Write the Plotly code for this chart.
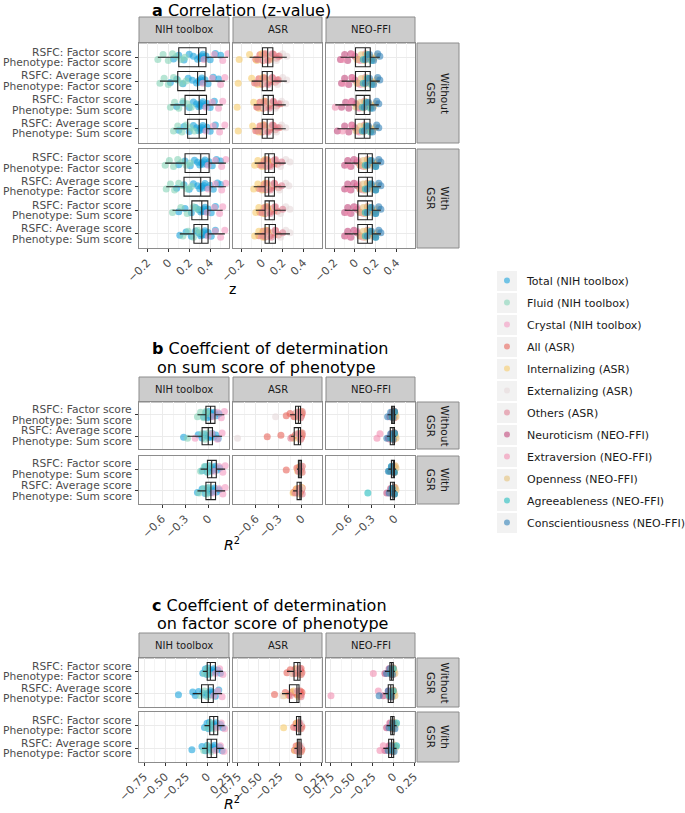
import plotly.graph_objects as go

W, H = 685, 813

# ---------------- categories / labels ----------------
INSTRUMENTS = ["NIH toolbox", "ASR", "NEO-FFI"]
GSR_LABELS = ["Without<br>GSR", "With<br>GSR"]
NIH_MEASURES = ["Total (NIH toolbox)", "Fluid (NIH toolbox)", "Crystal (NIH toolbox)"]
ASR_MEASURES = ["All (ASR)", "Internalizing (ASR)", "Externalizing (ASR)", "Others (ASR)"]
NEO_MEASURES = ["Neuroticism (NEO-FFI)", "Extraversion (NEO-FFI)", "Openness (NEO-FFI)",
                "Agreeableness (NEO-FFI)", "Conscientiousness (NEO-FFI)"]
ALL_MEASURES = NIH_MEASURES + ASR_MEASURES + NEO_MEASURES
MEASURE_COLORS = ["#1AA3DC", "#86D4B8", "#F49AC1", "#E8645A", "#F6CB6A", "#E6D9DA",
                  "#DF8195", "#C2477C", "#F28DB0", "#E4C27A", "#22BDBE", "#3180B8"]

ROWS_A = [("RSFC: Factor score", "Phenotype: Factor score"),
          ("RSFC: Average score", "Phenotype: Factor score"),
          ("RSFC: Factor score", "Phenotype: Sum score"),
          ("RSFC: Average score", "Phenotype: Sum score")]
ROWS_B = [("RSFC: Factor score", "Phenotype: Sum score"),
          ("RSFC: Average score", "Phenotype: Sum score")]
ROWS_C = [("RSFC: Factor score", "Phenotype: Factor score"),
          ("RSFC: Average score", "Phenotype: Factor score")]

TICKS_A = [-0.2, 0, 0.2, 0.4]
TICKS_B = [-0.6, -0.3, 0]
TICKS_C = [-0.75, -0.5, -0.25, 0, 0.25]
TICKTEXT_A = ["\u22120.2", "0", "0.2", "0.4"]
TICKTEXT_B = ["\u22120.6", "\u22120.3", "0"]
TICKTEXT_C = ["\u22120.75", "\u22120.50", "\u22120.25", "0", "0.25"]

# ---------------- panel a: z values ----------------
# each list: rows (Without GSR rows 1-4, With GSR rows 1-4)
A_TOTAL = [
    [0.05, 0.10, 0.15, 0.20, 0.24, 0.28, 0.30, 0.31, 0.32, 0.33, 0.34, 0.36, 0.40, 0.45, 0.50],
    [0.02, 0.08, 0.14, 0.19, 0.23, 0.27, 0.29, 0.30, 0.31, 0.32, 0.33, 0.35, 0.38, 0.43, 0.48],
    [0.08, 0.14, 0.20, 0.24, 0.27, 0.29, 0.30, 0.31, 0.32, 0.33, 0.35, 0.37, 0.40, 0.44],
    [0.10, 0.15, 0.20, 0.24, 0.27, 0.29, 0.30, 0.31, 0.32, 0.33, 0.35, 0.37, 0.40, 0.45],
    [0.10, 0.16, 0.21, 0.25, 0.28, 0.30, 0.32, 0.33, 0.34, 0.35, 0.37, 0.39, 0.42, 0.46, 0.50],
    [0.08, 0.15, 0.20, 0.24, 0.28, 0.30, 0.32, 0.33, 0.34, 0.35, 0.37, 0.40, 0.43, 0.47, 0.50],
    [0.10, 0.16, 0.22, 0.26, 0.29, 0.31, 0.32, 0.33, 0.34, 0.35, 0.36, 0.38, 0.41, 0.45],
    [0.11, 0.17, 0.22, 0.26, 0.29, 0.31, 0.32, 0.33, 0.34, 0.35, 0.36, 0.38, 0.41, 0.45],
]
A_FLUID = [
    [-0.10, -0.05, 0.00, 0.04, 0.08, 0.12, 0.16],
    [-0.08, -0.04, 0.00, 0.05, 0.09, 0.13, 0.17],
    [0.02, 0.06, 0.10, 0.14, 0.18, 0.22],
    [0.05, 0.09, 0.13, 0.17, 0.21, 0.25],
    [-0.03, 0.01, 0.05, 0.09, 0.13, 0.17, 0.21],
    [-0.02, 0.02, 0.06, 0.10, 0.14, 0.18, 0.22],
    [0.04, 0.12, 0.18, 0.24, 0.28],
    [0.14, 0.19, 0.24, 0.28, 0.30],
]
A_CRYSTAL = [
    [0.34, 0.44, 0.52, 0.57], [0.33, 0.42, 0.50, 0.54], [0.36, 0.42, 0.48, 0.52], [0.36, 0.43, 0.49, 0.54],
    [0.38, 0.45, 0.51, 0.55], [0.38, 0.45, 0.51, 0.55], [0.37, 0.44, 0.49, 0.52], [0.38, 0.45, 0.50, 0.54],
]
A_ALL = [
    [-0.06, -0.02, 0.01, 0.03, 0.04, 0.05, 0.06, 0.07, 0.09, 0.11, 0.14, 0.17],
    [-0.07, -0.03, 0.00, 0.02, 0.04, 0.05, 0.06, 0.07, 0.08, 0.10, 0.13, 0.16],
    [-0.05, -0.02, 0.01, 0.03, 0.04, 0.05, 0.06, 0.08, 0.09, 0.11, 0.14, 0.18],
    [-0.06, -0.02, 0.00, 0.02, 0.04, 0.05, 0.06, 0.07, 0.09, 0.11, 0.13, 0.17],
    [-0.02, 0.02, 0.04, 0.05, 0.06, 0.07, 0.08, 0.09, 0.10, 0.12, 0.15],
    [-0.03, 0.02, 0.04, 0.05, 0.06, 0.07, 0.08, 0.09, 0.10, 0.12, 0.16],
    [-0.02, 0.02, 0.03, 0.05, 0.06, 0.07, 0.08, 0.09, 0.10, 0.12, 0.15],
    [-0.03, 0.01, 0.03, 0.05, 0.06, 0.07, 0.08, 0.09, 0.11, 0.13, 0.16],
]
A_INTERN = [
    [-0.22, -0.12, -0.05, 0.00, 0.04, 0.08], [-0.23, -0.10, -0.04, 0.01, 0.05],
    [-0.24, -0.08, -0.03, 0.02, 0.06], [-0.23, -0.09, -0.03, 0.01, 0.05],
    [-0.07, -0.04, 0.00, 0.03, 0.06], [-0.08, -0.04, 0.00, 0.03, 0.06],
    [-0.06, -0.03, 0.01, 0.04, 0.07], [-0.07, -0.03, 0.01, 0.04, 0.07],
]
A_EXTERN = [
    [0.02, 0.08, 0.14, 0.20, 0.24], [0.03, 0.09, 0.15, 0.20, 0.24],
    [0.02, 0.08, 0.13, 0.19, 0.23], [0.03, 0.08, 0.14, 0.19, 0.23],
    [0.05, 0.12, 0.18, 0.23, 0.27], [0.05, 0.11, 0.17, 0.23, 0.26],
    [0.05, 0.12, 0.18, 0.23, 0.27], [0.06, 0.12, 0.18, 0.23, 0.27],
]
A_OTHERS = [
    [-0.04, 0.02, 0.06, 0.10, 0.16], [-0.05, 0.02, 0.06, 0.10, 0.15],
    [-0.04, 0.02, 0.07, 0.11, 0.16], [-0.04, 0.01, 0.06, 0.10, 0.15],
    [0.00, 0.04, 0.08, 0.13, 0.19], [0.00, 0.04, 0.08, 0.12, 0.19],
    [0.00, 0.04, 0.08, 0.13, 0.20], [0.01, 0.05, 0.09, 0.13, 0.20],
]
A_NEUR = [
    [-0.14, -0.10, -0.07, -0.04, 0.00, 0.03], [-0.13, -0.10, -0.06, -0.03, 0.00, 0.03],
    [-0.13, -0.09, -0.06, -0.03, 0.01, 0.04], [-0.17, -0.10, -0.06, -0.03, 0.00, 0.03],
    [-0.10, -0.07, -0.04, -0.01, 0.02, 0.05], [-0.10, -0.07, -0.04, -0.01, 0.02, 0.05],
    [-0.10, -0.07, -0.04, -0.01, 0.02, 0.05], [-0.10, -0.07, -0.04, -0.01, 0.02, 0.05],
]
A_EXTRA = [
    [-0.12, -0.02, 0.05, 0.10], [-0.11, -0.02, 0.05, 0.10], [-0.19, -0.04, 0.04, 0.09], [-0.12, -0.03, 0.04, 0.09],
    [-0.06, 0.03, 0.08, 0.12], [-0.06, 0.03, 0.08, 0.12], [-0.07, 0.02, 0.08, 0.12], [-0.07, 0.02, 0.08, 0.12],
]
A_OPEN = [
    [0.02, 0.06, 0.09, 0.11, 0.12, 0.13, 0.15, 0.18, 0.21],
    [0.02, 0.06, 0.09, 0.11, 0.12, 0.13, 0.15, 0.18, 0.21],
    [0.01, 0.05, 0.08, 0.10, 0.12, 0.13, 0.15, 0.18, 0.20],
    [0.01, 0.05, 0.08, 0.10, 0.12, 0.13, 0.15, 0.17, 0.20],
    [0.05, 0.08, 0.10, 0.12, 0.13, 0.15, 0.17, 0.19, 0.22],
    [0.05, 0.08, 0.10, 0.12, 0.13, 0.15, 0.17, 0.19, 0.22],
    [0.05, 0.08, 0.10, 0.12, 0.13, 0.15, 0.17, 0.19, 0.22],
    [0.05, 0.08, 0.10, 0.12, 0.13, 0.15, 0.17, 0.19, 0.22],
]
A_AGREE = [
    [0.08, 0.12, 0.16], [0.08, 0.12, 0.16], [0.07, 0.11, 0.15], [0.07, 0.11, 0.15],
    [0.10, 0.15, 0.20], [0.10, 0.15, 0.20], [0.10, 0.15, 0.20], [0.10, 0.15, 0.20],
]
A_CONSC = [
    [0.10, 0.14, 0.18, 0.22, 0.24], [0.10, 0.14, 0.18, 0.22, 0.24],
    [0.09, 0.13, 0.17, 0.21, 0.23], [0.09, 0.13, 0.17, 0.21, 0.23],
    [0.12, 0.16, 0.20, 0.23, 0.25], [0.12, 0.16, 0.20, 0.23, 0.25],
    [0.12, 0.16, 0.20, 0.23, 0.25], [0.12, 0.16, 0.20, 0.23, 0.25],
]

# ---------------- panel b: R^2 on sum score ----------------
# rows: Without GSR rows 1-2, With GSR rows 1-2
B_TOTAL = [
    [-0.06, -0.03, -0.01, 0.01, 0.02, 0.03, 0.04, 0.05, 0.06, 0.08, 0.11, 0.14],
    [-0.32, -0.13, -0.08, -0.05, -0.02, 0.00, 0.02, 0.03, 0.04, 0.05, 0.07, 0.10, 0.13],
    [-0.08, -0.04, -0.01, 0.01, 0.03, 0.04, 0.05, 0.06, 0.07, 0.09, 0.12, 0.15],
    [-0.14, -0.08, -0.04, -0.01, 0.01, 0.03, 0.04, 0.05, 0.06, 0.08, 0.11, 0.14],
]
B_FLUID = [[-0.14, -0.10, -0.06, -0.03, 0.00], [-0.27, -0.08, -0.04, 0.00],
           [-0.10, -0.05, -0.01, 0.02], [-0.12, -0.06, -0.02, 0.01]]
B_CRYSTAL = [[0.06, 0.12, 0.17, 0.21], [-0.17, 0.05, 0.12, 0.18],
             [0.08, 0.14, 0.19, 0.22], [0.07, 0.14, 0.19, 0.22]]
B_ALL = [
    [-0.20, -0.15, -0.10, -0.07, -0.05, -0.04, -0.03, -0.02, -0.02, -0.01, 0.00, 0.01],
    [-0.45, -0.27, -0.12, -0.08, -0.05, -0.04, -0.03, -0.02, -0.02, -0.01, 0.00, 0.01],
    [-0.20, -0.06, -0.04, -0.03, -0.02, -0.02, -0.01, -0.01, 0.00, 0.01],
    [-0.10, -0.07, -0.05, -0.03, -0.02, -0.02, -0.01, -0.01, 0.00, 0.01],
]
B_INTERN = [[-0.08, -0.05, -0.02, 0.00], [-0.10, -0.05, -0.02, 0.00], [-0.05, -0.02, 0.00], [-0.11, -0.06, -0.02, 0.00]]
B_EXTERN = [[-0.34, -0.06, -0.02], [-0.84, -0.06, -0.02], [-0.03, 0.00], [-0.04, 0.00]]
B_OTHERS = [[-0.09, -0.04, -0.01, 0.01], [-0.14, -0.04, -0.01, 0.01], [-0.04, -0.01, 0.01], [-0.08, -0.03, 0.01]]
B_NEUR = [[-0.06, -0.03, -0.01, 0.00], [-0.08, -0.04, -0.01, 0.00], [-0.05, -0.02, 0.00], [-0.10, -0.05, -0.02, 0.00]]
B_EXTRA = [[-0.05, -0.02, 0.00], [-0.23, -0.19, -0.06, -0.01], [-0.03, 0.00], [-0.06, -0.02]]
B_OPEN = [[-0.04, -0.02, -0.01, 0.00, 0.01, 0.02], [-0.04, -0.02, -0.01, 0.00, 0.01, 0.02],
          [-0.03, -0.01, 0.00, 0.01, 0.02], [-0.04, -0.02, 0.00, 0.01, 0.02]]
B_AGREE = [[-0.03, 0.00], [-0.05, 0.00], [-0.07, -0.04, 0.00], [-0.35, -0.03, 0.00]]
B_CONSC = [[-0.09, -0.05, -0.02, 0.00], [-0.10, -0.05, -0.02, 0.00], [-0.08, -0.04, -0.01], [-0.07, -0.03, 0.00]]

# ---------------- panel c: R^2 on factor score ----------------
C_TOTAL = [
    [-0.05, -0.02, 0.00, 0.01, 0.02, 0.03, 0.04, 0.05, 0.06, 0.08, 0.10, 0.13, 0.16],
    [-0.34, -0.17, -0.14, -0.10, -0.05, -0.02, 0.00, 0.02, 0.03, 0.04, 0.05, 0.07, 0.10, 0.14],
    [-0.03, 0.00, 0.02, 0.03, 0.05, 0.06, 0.07, 0.08, 0.09, 0.11, 0.13, 0.16, 0.19],
    [-0.18, -0.06, -0.02, 0.00, 0.02, 0.04, 0.05, 0.06, 0.07, 0.09, 0.12, 0.15, 0.18],
]
C_FLUID = [[-0.03, 0.00, 0.03], [-0.08, -0.03, 0.01], [0.00, 0.04, 0.08], [-0.04, 0.01, 0.05]]
C_CRYSTAL = [[0.10, 0.15, 0.19], [0.08, 0.13, 0.18], [0.12, 0.17, 0.21], [0.10, 0.16, 0.20]]
C_ALL = [
    [-0.16, -0.12, -0.09, -0.06, -0.04, -0.03, -0.02, -0.01, 0.00, 0.01, 0.02],
    [-0.31, -0.18, -0.14, -0.10, -0.06, -0.04, -0.03, -0.02, -0.01, 0.00, 0.01, 0.02],
    [-0.08, -0.05, -0.03, -0.02, -0.01, 0.00, 0.01, 0.02],
    [-0.07, -0.05, -0.03, -0.02, -0.01, 0.00, 0.01, 0.02],
]
C_INTERN = [[-0.08, -0.04, 0.00], [-0.20, -0.08, -0.02], [-0.20, -0.04, 0.00], [-0.06, -0.02, 0.01]]
C_EXTERN = [[-0.10, -0.02], [-0.22, -0.04], [-0.02, 0.01], [-0.03, 0.01]]
C_OTHERS = [[-0.06, -0.01, 0.01], [-0.12, -0.03, 0.01], [-0.05, -0.01, 0.01], [-0.04, -0.01, 0.01]]
C_NEUR = [[-0.10, -0.05, -0.02, 0.00], [-0.12, -0.06, -0.02, 0.00], [-0.08, -0.04, -0.01], [-0.10, -0.05, -0.01]]
C_EXTRA = [[-0.24, -0.04, 0.00], [-0.75, -0.18, -0.05], [-0.03, 0.01], [-0.16, -0.12, -0.03]]
C_OPEN = [[-0.04, -0.02, -0.01, 0.00, 0.01, 0.02], [-0.04, -0.02, -0.01, 0.00, 0.01, 0.02],
          [-0.03, -0.01, 0.00, 0.01, 0.03], [-0.04, -0.01, 0.00, 0.01, 0.03]]
C_AGREE = [[-0.03, 0.00], [-0.05, 0.00], [-0.02, 0.04], [-0.02, 0.04]]
C_CONSC = [[-0.08, -0.04, -0.01], [-0.17, -0.06, -0.02], [-0.05, -0.01, 0.02], [-0.06, -0.02, 0.01]]

# ---------------- assemble ----------------
PANEL_DATA = [
    [[A_TOTAL, A_FLUID, A_CRYSTAL], [A_ALL, A_INTERN, A_EXTERN, A_OTHERS],
     [A_NEUR, A_EXTRA, A_OPEN, A_AGREE, A_CONSC]],
    [[B_TOTAL, B_FLUID, B_CRYSTAL], [B_ALL, B_INTERN, B_EXTERN, B_OTHERS],
     [B_NEUR, B_EXTRA, B_OPEN, B_AGREE, B_CONSC]],
    [[C_TOTAL, C_FLUID, C_CRYSTAL], [C_ALL, C_INTERN, C_EXTERN, C_OTHERS],
     [C_NEUR, C_EXTRA, C_OPEN, C_AGREE, C_CONSC]],
]
MEASURES_BY_INSTR = [NIH_MEASURES, ASR_MEASURES, NEO_MEASURES]
COLOR_OF = dict(zip(ALL_MEASURES, MEASURE_COLORS))

# layout geometry (pixels)
COLS = [(139, 229), (233, 322), (326, 415)]
STRIP_X = (417, 459)
GEOM = [
    dict(rows=ROWS_A, header=(17, 43), rowdom=[(43, 143), (149, 248)], xrange=[-0.28, 0.58],
         ticks=TICKS_A, ticktext=TICKTEXT_A, minor=0.1, xtitle="z", xtitle_y=289,
         titles=[("<b>a</b> Correlation (z-value)", 10, 150)]),
    dict(rows=ROWS_B, header=(377, 402), rowdom=[(402, 449), (456, 504)], xrange=[-0.9, 0.27],
         ticks=TICKS_B, ticktext=TICKTEXT_B, minor=0.15, xtitle="<i>R</i><sup>2</sup>", xtitle_y=544,
         titles=[("<b>b</b> Coeffcient of determination", 349, 150), ("on sum score of phenotype", 367, 155)]),
    dict(rows=ROWS_C, header=(633, 658), rowdom=[(658, 707), (712, 762)], xrange=[-0.81, 0.262],
         ticks=TICKS_C, ticktext=TICKTEXT_C, minor=0.125, xtitle="<i>R</i><sup>2</sup>", xtitle_y=803,
         titles=[("<b>c</b> Coeffcient of determination", 605, 150), ("on factor score of phenotype", 623, 155)]),
]

FONT = "DejaVu Sans"
fig = go.Figure()
layout = {}
shapes = []
annotations = []
BORDER = "#8c8c8c"

for p, geo in enumerate(GEOM):
    nrows = len(geo["rows"])
    for txt, yy, xx in geo["titles"]:
        annotations.append(dict(text=txt, x=xx / W, y=1 - yy / H, xref="paper", yref="paper",
                                xanchor="left", yanchor="middle", showarrow=False,
                                font=dict(size=16, color="#000000", family=FONT)))
    annotations.append(dict(text=geo["xtitle"], x=232 / W, y=1 - geo["xtitle_y"] / H, xref="paper",
                            yref="paper", xanchor="center", yanchor="middle", showarrow=False,
                            font=dict(size=14, color="#000000", family=FONT)))
    for c, (x0, x1) in enumerate(COLS):
        h0, h1 = geo["header"]
        shapes.append(dict(type="rect", xref="paper", yref="paper", x0=x0 / W, x1=x1 / W,
                           y0=1 - h1 / H, y1=1 - h0 / H, fillcolor="#cccccc",
                           line=dict(color=BORDER, width=1), layer="below"))
        annotations.append(dict(text=INSTRUMENTS[c], x=(x0 + x1) / 2 / W, y=1 - (h0 + h1) / 2 / H,
                                xref="paper", yref="paper", showarrow=False,
                                xanchor="center", yanchor="middle",
                                font=dict(size=10, color="#1a1a1a", family=FONT)))
    for g in range(2):
        r0, r1 = geo["rowdom"][g]
        shapes.append(dict(type="rect", xref="paper", yref="paper", x0=STRIP_X[0] / W, x1=STRIP_X[1] / W,
                           y0=1 - r1 / H, y1=1 - r0 / H, fillcolor="#cccccc",
                           line=dict(color=BORDER, width=1), layer="below"))
        annotations.append(dict(text=GSR_LABELS[g], x=(STRIP_X[0] + STRIP_X[1]) / 2 / W,
                                y=1 - (r0 + r1) / 2 / H, xref="paper", yref="paper", showarrow=False,
                                textangle=90, align="center", xanchor="center", yanchor="middle",
                                font=dict(size=10.5, color="#1a1a1a", family=FONT)))
        for c in range(3):
            idx = p * 6 + g * 3 + c + 1
            sfx = "" if idx == 1 else str(idx)
            xref, yref = "x" + sfx, "y" + sfx
            x0, x1 = COLS[c]
            layout["xaxis" + sfx] = dict(
                domain=[x0 / W, x1 / W], anchor=yref, range=geo["xrange"], automargin=False,
                tickmode="array", tickvals=geo["ticks"], ticktext=geo["ticktext"],
                showticklabels=(g == 1), ticks="outside" if g == 1 else "", ticklen=3,
                tickcolor="#333333", tickangle=-45,
                tickfont=dict(size=11, color="#4d4d4d", family=FONT),
                showgrid=True, gridcolor="#ebebeb", gridwidth=1,
                minor=dict(tickmode="linear", tick0=0, dtick=geo["minor"], showgrid=True,
                           gridcolor="#f4f4f4", gridwidth=0.6, ticks=""),
                zeroline=False, showline=True, mirror=True, linecolor=BORDER, linewidth=1,
                fixedrange=True)
            layout["yaxis" + sfx] = dict(
                domain=[1 - r1 / H, 1 - r0 / H], anchor=xref, range=[nrows + 0.6, 0.4], automargin=False,
                tickmode="array", tickvals=list(range(1, nrows + 1)),
                showticklabels=False, ticks="outside" if c == 0 else "", ticklen=3,
                tickcolor="#333333",
                showgrid=True, gridcolor="#ebebeb", gridwidth=1,
                zeroline=False, showline=True, mirror=True, linecolor=BORDER, linewidth=1,
                fixedrange=True)
            if c == 0:
                for r, (l1, l2) in enumerate(geo["rows"]):
                    for txt, ys in ((l1, 5.2), (l2, -5.2)):
                        annotations.append(dict(text=txt, x=(x0 - 5) / W, y=r + 1, xref="paper",
                                                yref=yref, xanchor="right", yanchor="middle",
                                                yshift=ys, showarrow=False,
                                                font=dict(size=10.7, color="#4d4d4d", family=FONT)))
            measures = MEASURES_BY_INSTR[c]
            series = PANEL_DATA[p][c]
            for r in range(nrows):
                ri = g * nrows + r
                combined = []
                for m, vals_by_row in zip(measures, series):
                    vals = vals_by_row[ri]
                    combined += vals
                    fig.add_trace(go.Box(
                        x=vals, y=[r + 1] * len(vals), orientation="h", xaxis=xref, yaxis=yref,
                        boxpoints="all", jitter=0.45, pointpos=0, width=0.8,
                        line=dict(width=0, color="rgba(0,0,0,0)"), fillcolor="rgba(0,0,0,0)",
                        marker=dict(color=COLOR_OF[m], size=7, opacity=0.6, line=dict(width=0)),
                        showlegend=False, hoverinfo="skip", name=m))
                fig.add_trace(go.Box(
                    x=combined, y=[r + 1] * len(combined), orientation="h", xaxis=xref, yaxis=yref,
                    boxpoints="outliers", width=0.8, whiskerwidth=0,
                    marker=dict(size=1, opacity=0),
                    line=dict(width=1.1, color="#222222"), fillcolor="rgba(0,0,0,0)",
                    showlegend=False, hoverinfo="skip"))

# legend-only traces
for m in ALL_MEASURES:
    fig.add_trace(go.Scatter(x=[None], y=[None], mode="markers", name=m, xaxis="x", yaxis="y",
                             marker=dict(color=COLOR_OF[m], size=6, opacity=0.6), legendgroup=m))

# legend key backgrounds
for i in range(len(ALL_MEASURES)):
    cy = 281 + 22 * i
    shapes.append(dict(type="rect", xref="paper", yref="paper", x0=497 / W, x1=517 / W,
                       y0=1 - (cy + 10) / H, y1=1 - (cy - 10) / H, fillcolor="#f2f2f2",
                       line=dict(width=0), layer="below"))

layout.update(dict(
    width=W, height=H, margin=dict(l=0, r=0, t=0, b=0, autoexpand=False),
    paper_bgcolor="white", plot_bgcolor="white", boxmode="overlay",
    font=dict(family=FONT, color="#1a1a1a"),
    showlegend=True,
    legend=dict(x=487 / W, y=1 - 266 / H, xanchor="left", yanchor="top",
                bgcolor="rgba(0,0,0,0)", font=dict(size=11, color="#1a1a1a", family=FONT),
                itemsizing="trace", tracegroupgap=3),
    shapes=shapes, annotations=annotations,
))
fig.update_layout(**layout)
fig.write_html("out.html", config={"displayModeBar": False},
               post_script="document.body.style.margin='0px';")
